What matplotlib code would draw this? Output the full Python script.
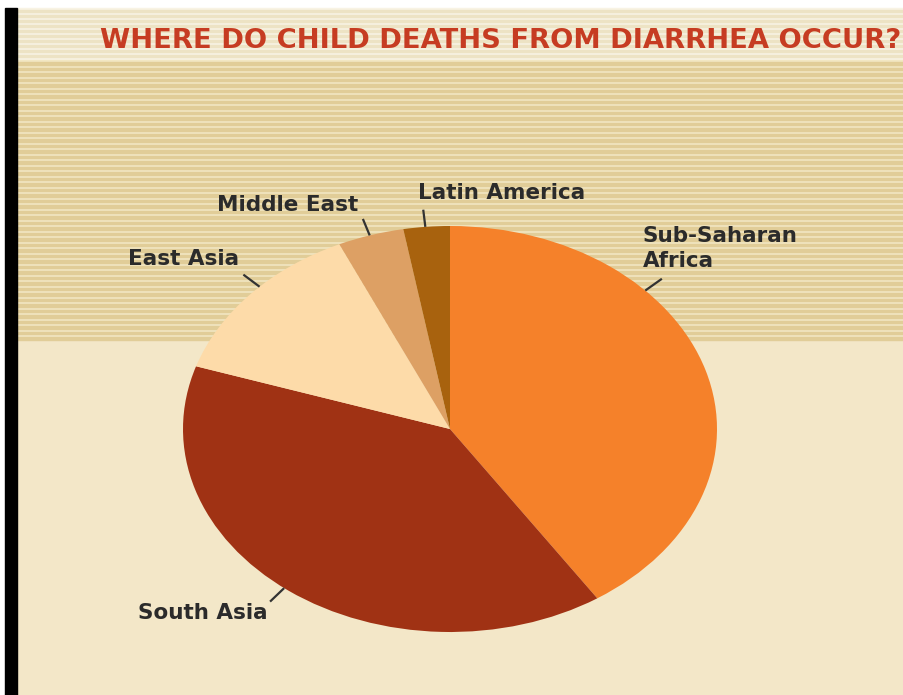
import numpy as np
import matplotlib
matplotlib.use("Agg")
import matplotlib.pyplot as plt

# share of child deaths from diarrhea, by region (%)
regions = ["Sub-Saharan\nAfrica", "South Asia", "East Asia", "Middle East", "Latin America"]
shares = [40.7, 39.3, 13.2, 4.0, 2.8]
colors = ["#F5812A", "#A03214", "#FDDBA9", "#DDA064", "#A8620E"]

title = "WHERE DO CHILD DEATHS FROM DIARRHEA OCCUR?"

# label layout (pixel positions of text, angle of the leader line in degrees)
label_xy = [(643, 226), (138, 603), (128, 249), (217, 195), (418, 183)]
leader_angles = [43, 231.6, 135.5, 107.5, 95.3]

W, H = 904, 695
fig = plt.figure(figsize=(W / 100, H / 100), dpi=100)

# background in pixel coordinates
bg = fig.add_axes([0, 0, 1, 1])
bg.set_xlim(0, W)
bg.set_ylim(H, 0)
bg.axis("off")
bg.add_patch(plt.Rectangle((0, 0), W, H, color="white", zorder=0))
bg.add_patch(plt.Rectangle((17, 8), W, 52, color="#F8F3E4", zorder=0))
for y in np.arange(10, 60, 5):
    bg.add_patch(plt.Rectangle((17, y), W, 1.8, color="#EDE3C4", zorder=1))
bg.add_patch(plt.Rectangle((17, 60), W, 280, color="#F2E7C3", zorder=0))
for y in np.arange(62, 338, 5.5):
    bg.add_patch(plt.Rectangle((17, y), W, 2.5, color="#E1CD98", zorder=1))
bg.add_patch(plt.Rectangle((17, 340), W, H - 340, color="#F3E7C8", zorder=0))
bg.add_patch(plt.Rectangle((5, 8), 12, H, color="black", zorder=2))

bg.text(100, 48, title, color="#C63C22", fontsize=19.7, fontweight="bold",
        ha="left", va="baseline")

for name, (x, y) in zip(regions, label_xy):
    bg.text(x, y, name, color="#2B2B2B", fontsize=15.5, fontweight="bold",
            ha="left", va="top", linespacing=1.3)

# elliptical pie
ax = fig.add_axes([183 / W, (H - 632) / H, 534 / W, 406 / H])
ax.pie(shares, colors=colors, startangle=90, counterclock=False, radius=1,
       wedgeprops=dict(linewidth=0))
ax.set_aspect("auto")
ax.set_xlim(-1, 1)
ax.set_ylim(-1, 1)
ax.axis("off")

for a in leader_angles:
    t = np.radians(a)
    ax.plot([np.cos(t), 1.085 * np.cos(t)], [np.sin(t), 1.085 * np.sin(t)],
            color="#333333", lw=1.6, clip_on=False, solid_capstyle="butt")

fig.savefig("out.png", dpi=100)
